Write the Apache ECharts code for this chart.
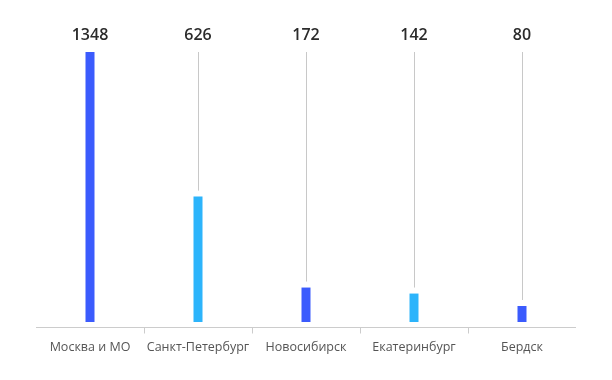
<!DOCTYPE html>
<html><head><meta charset="utf-8">
<script src="https://cdn.jsdelivr.net/npm/echarts@6/dist/echarts.min.js"></script>
<style>html,body{margin:0;padding:0;background:#fff}#c{width:612px;height:380px}</style>
</head><body><div id="c"></div>
<script>
const categories = ['Москва и МО', 'Санкт-Петербург', 'Новосибирск', 'Екатеринбург', 'Бердск'];
const values = [1348, 626, 172, 142, 80];
const colors = ['#3b5bfd', '#2cb4fb'];
const maxValue = 1348;

const chart = echarts.init(document.getElementById('c'), null, {renderer: 'canvas'});
chart.setOption({
  animation: false,
  grid: {left: 36, right: 36, top: 52, bottom: 58},
  xAxis: {
    type: 'category', data: categories,
    axisLine: {show: false},
    axisTick: {show: false},
    axisLabel: {color: '#555555', fontSize: 12.5, fontFamily: 'Open Sans', margin: 19, interval: 0, hideOverlap: false}
  },
  yAxis: {type: 'value', min: 0, max: maxValue, show: false, splitLine: {show: false}},
  series: [
    {
      type: 'bar', barWidth: 9, z: 3,
      data: values.map((v, i) => ({value: v, itemStyle: {color: colors[i % 2]}}))
    },
    {
      type: 'custom', z: 2,
      data: values.map((v, i) => [i, v]),
      renderItem: function (params, api) {
        const i = api.value(0), v = api.value(1);
        const top = api.coord([i, maxValue]);
        const bar = api.coord([i, v]);
        const base = api.coord([i, 0]);
        const bw = api.size([1, 0])[0];
        const cs = params.coordSys;
        const axisY = Math.round(base[1] + 5) + 0.5;
        const children = [];
        if (bar[1] - 6 > top[1]) {
          children.push({type: 'line', shape: {x1: Math.round(top[0]) + 0.5, y1: top[1], x2: Math.round(top[0]) + 0.5, y2: bar[1] - 6},
            style: {stroke: '#c8c8c8', lineWidth: 1}});
        }
        children.push({type: 'text', x: top[0], y: top[1] - 17,
          style: {text: String(v), fill: '#2b2b2b', font: '600 16px "Open Sans"', align: 'center', verticalAlign: 'middle'}});
        if (i === 0) {
          children.push({type: 'line', shape: {x1: cs.x, y1: axisY, x2: cs.x + cs.width, y2: axisY},
            style: {stroke: '#cccccc', lineWidth: 1}});
        } else {
          const x = Math.round(base[0] - bw / 2) + 0.5;
          children.push({type: 'line', shape: {x1: x, y1: axisY, x2: x, y2: axisY + 6},
            style: {stroke: '#cccccc', lineWidth: 1}});
        }
        return {type: 'group', children: children};
      }
    }
  ]
});
</script></body></html>
